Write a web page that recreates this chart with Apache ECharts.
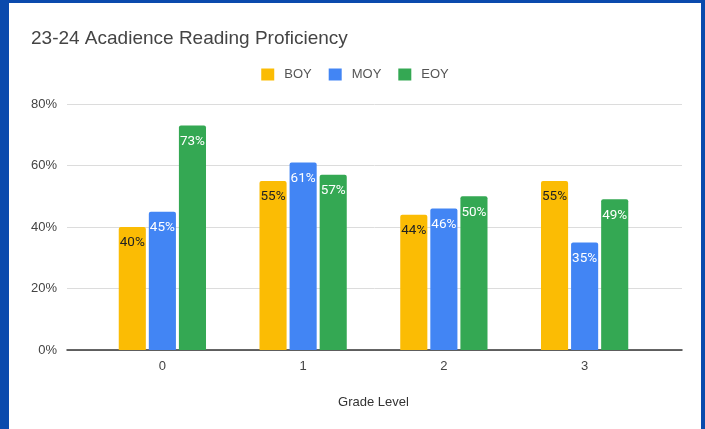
<!DOCTYPE html>
<html>
<head>
<meta charset="utf-8">
<script src="https://cdn.jsdelivr.net/npm/echarts@6/dist/echarts.min.js"></script>
<style>
  body { margin: 0; background: #0a4aad; }
  #frame { position: absolute; left: 0; top: 0; width: 705px; height: 429px; background: #0a4aad; }
  #chart { position: absolute; left: 9px; top: 3px; width: 692px; height: 426px; background: #fff; }
</style>
</head>
<body>
<div id="frame"><div id="chart"></div></div>
<script>
// chart data
var grades = ['0', '1', '2', '3'];
var boy = [40, 55, 44, 55];
var moy = [45, 61, 46, 35];
var eoy = [73, 57, 50, 49];
var yTicks = [0, 20, 40, 60, 80];

var chartDom = document.getElementById('chart');
var myChart = echarts.init(chartDom);
var option;

function barSeries(name, values, color, labelColor) {
    return {
        name: name,
        type: 'bar',
        data: values,
        xAxisIndex: 0,
        yAxisIndex: 0,
        barGap: '11%',
        barCategoryGap: '38%',
        itemStyle: { color: color, borderRadius: [2, 2, 0, 0] },
        label: {
            show: true,
            position: 'insideTop',
            distance: 9,
            formatter: '{c}%',
            color: labelColor,
            fontFamily: 'Roboto',
            fontSize: 13.5
        }
    };
}

option = {
    animation: false,
    textStyle: { fontFamily: 'Liberation Sans' },
    title: {
        text: '23-24 Acadience Reading Proficiency',
        left: 22,
        top: 26,
        padding: 0,
        textStyle: { fontSize: 19, fontWeight: 'normal', color: '#444', fontFamily: 'Liberation Sans' }
    },
    legend: {
        data: ['BOY', 'MOY', 'EOY'],
        left: 'center',
        top: 65,
        padding: 0,
        icon: 'rect',
        itemWidth: 13,
        itemHeight: 12,
        itemGap: 17,
        textStyle: { fontSize: 13, color: '#555', padding: [0, 0, 0, 5] }
    },
    grid: [
        { left: 83, right: 46, top: 101, bottom: 79 },
        { left: 58, right: 19, top: 101, bottom: 79 }
    ],
    xAxis: [
        {
            type: 'category',
            gridIndex: 0,
            data: grades,
            axisLine: { show: false },
            axisTick: { show: false },
            axisLabel: { margin: 10, fontSize: 13, color: '#444' },
            name: 'Grade Level',
            nameLocation: 'middle',
            nameGap: 46,
            nameTextStyle: { fontSize: 13, color: '#333' }
        },
        {
            type: 'value',
            gridIndex: 1,
            min: 0,
            max: 1,
            axisLine: { show: true, lineStyle: { color: '#333', width: 1.5 } },
            axisTick: { show: false },
            axisLabel: { show: false },
            splitLine: { show: false }
        }
    ],
    yAxis: [
        {
            type: 'value',
            gridIndex: 0,
            min: yTicks[0],
            max: yTicks[yTicks.length - 1],
            interval: 20,
            axisLabel: { show: false },
            axisLine: { show: false },
            axisTick: { show: false },
            splitLine: { show: false }
        },
        {
            type: 'value',
            gridIndex: 1,
            min: yTicks[0],
            max: yTicks[yTicks.length - 1],
            interval: 20,
            axisLine: { show: false },
            axisTick: { show: false },
            axisLabel: { formatter: '{value}%', margin: 10, fontSize: 13, color: '#444' },
            splitLine: { lineStyle: { color: '#dcdcdc', width: 1 } }
        }
    ],
    series: [
        barSeries('BOY', boy, '#fbbc04', '#222'),
        barSeries('MOY', moy, '#4285f4', '#fff'),
        barSeries('EOY', eoy, '#34a853', '#fff')
    ]
};

option && myChart.setOption(option);
</script>
</body>
</html>
